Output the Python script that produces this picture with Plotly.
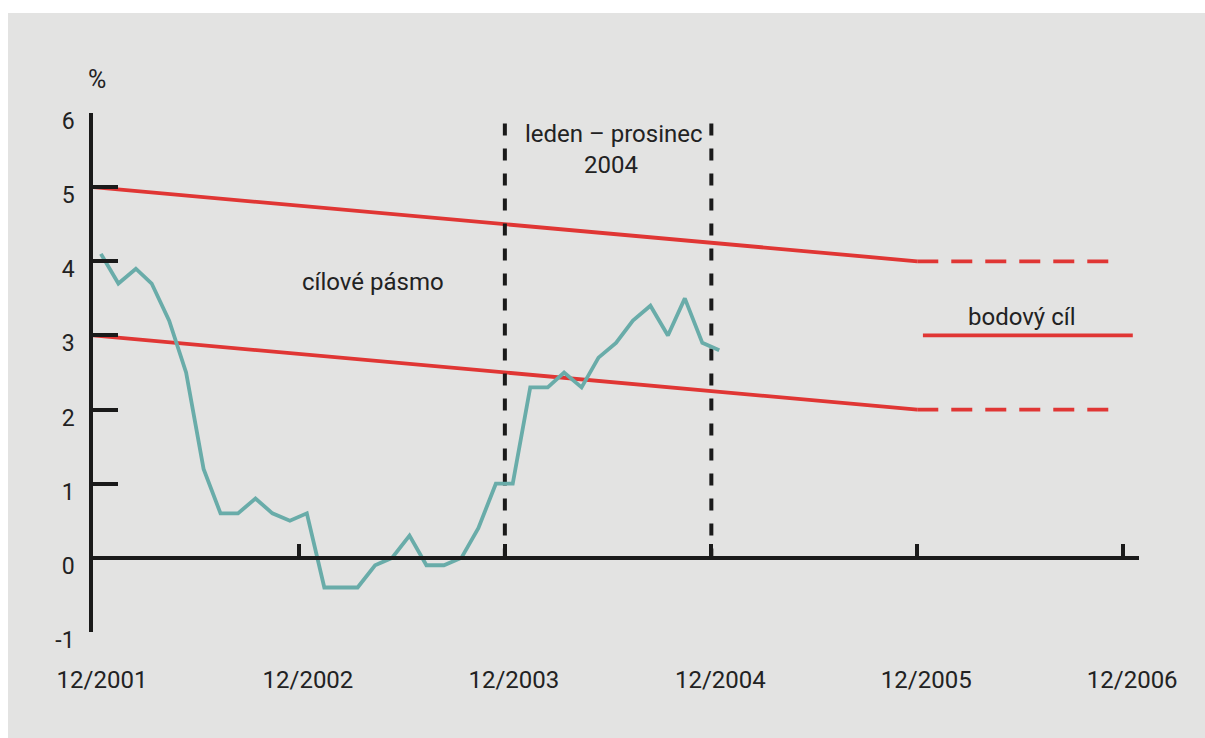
import plotly.graph_objects as go

# ---- data ----
cpi_dates = [
    "2001-12-15", "2002-01-15", "2002-02-15", "2002-03-15", "2002-04-15", "2002-05-15",
    "2002-06-15", "2002-07-15", "2002-08-15", "2002-09-15", "2002-10-15", "2002-11-15",
    "2002-12-15", "2003-01-15", "2003-02-15", "2003-03-15", "2003-04-15", "2003-05-15",
    "2003-06-15", "2003-07-15", "2003-08-15", "2003-09-15", "2003-10-15", "2003-11-15",
    "2003-12-15", "2004-01-15", "2004-02-15", "2004-03-15", "2004-04-15", "2004-05-15",
    "2004-06-15", "2004-07-15", "2004-08-15", "2004-09-15", "2004-10-15", "2004-11-15",
    "2004-12-15",
]
cpi_values = [
    4.1, 3.7, 3.9, 3.7, 3.2, 2.5,
    1.2, 0.6, 0.6, 0.8, 0.6, 0.5,
    0.6, -0.4, -0.4, -0.4, -0.1, 0.0,
    0.3, -0.1, -0.1, 0.0, 0.4, 1.0,
    1.0, 2.3, 2.3, 2.5, 2.3, 2.7,
    2.9, 3.2, 3.4, 3.0, 3.5, 2.9,
    2.8,
]

band_dates = ["2001-12-01", "2005-12-01"]
band_upper = [5.0, 4.0]
band_lower = [3.0, 2.0]

band_ext_dates = ["2005-12-01", "2006-11-18"]
band_ext_upper = [4.0, 4.0]
band_ext_lower = [2.0, 2.0]

point_dates = ["2005-12-11", "2006-12-18"]
point_target = [3.0, 3.0]

period_marks = ["2003-12-01", "2004-12-01"]
period_top = 5.86

tick_dates = ["2001-12-01", "2002-12-01", "2003-12-01", "2004-12-01", "2005-12-01", "2006-12-01"]
tick_labels = ["12/2001", "12/2002", "12/2003", "12/2004", "12/2005", "12/2006"]
y_ticks = [-1, 0, 1, 2, 3, 4, 5, 6]
y_tick_labels = ["-1", "0", "1", "2", "3", "4", "5", "6"]

RED = "#e03634"
TEAL = "#69aca9"
BG = "#e3e3e2"
FONT = "Roboto, Liberation Sans, sans-serif"

fig = go.Figure()

# target band
for ys in (band_upper, band_lower):
    fig.add_trace(go.Scatter(x=band_dates, y=ys, mode="lines",
                             line=dict(color=RED, width=3.8), hoverinfo="skip"))
for ys in (band_ext_upper, band_ext_lower):
    fig.add_trace(go.Scatter(x=band_ext_dates, y=ys, mode="lines",
                             line=dict(color=RED, width=3.8, dash="21px,13px"), hoverinfo="skip"))
fig.add_trace(go.Scatter(x=point_dates, y=point_target, mode="lines",
                         line=dict(color=RED, width=3.8), hoverinfo="skip"))

# period markers
for d in period_marks:
    fig.add_trace(go.Scatter(x=[d, d], y=[period_top, 0], mode="lines",
                             line=dict(color="#1a1a1a", width=4, dash="12px,13px"), hoverinfo="skip"))

# inflation
fig.add_trace(go.Scatter(x=cpi_dates, y=cpi_values, mode="lines",
                         line=dict(color=TEAL, width=3.8), hoverinfo="skip"))

W, H = 1205, 738
# plot area in page pixels: left 93, right 1139, top 113, bottom 632
ml, mt = 93, 113
mr, mb = W - 1139, H - 632
pw, ph = W - ml - mr, H - mt - mb


def px_x(page_x):
    return (page_x - ml) / pw


def px_y(page_y):
    return (H - mb - page_y) / ph


fig.add_shape(type="rect", xref="paper", yref="paper",
              x0=px_x(8), x1=px_x(W + 5), y0=px_y(H + 5), y1=px_y(13),
              fillcolor=BG, line=dict(width=0), layer="below")

txt = dict(family=FONT, size=24, color="#222222")
fig.add_annotation(x=px_x(97), y=px_y(79), xref="paper", yref="paper", text="%",
                   xanchor="center", yanchor="middle",
                   showarrow=False, font=dict(family=FONT, size=25, color="#222222"))
fig.add_annotation(x="2004-06-12", y=5.72, text="leden – prosinec", showarrow=False, font=txt)
fig.add_annotation(x="2004-06-06", y=5.30, text="2004", showarrow=False, font=txt)
fig.add_annotation(x="2003-04-12", y=3.72, text="cílové pásmo", showarrow=False, font=txt)
fig.add_annotation(x="2006-06-03", y=3.25, text="bodový cíl", showarrow=False, font=txt)

fig.update_layout(
    width=W, height=H,
    margin=dict(l=ml, r=mr, t=mt, b=mb),
    paper_bgcolor="white",
    plot_bgcolor="rgba(0,0,0,0)",
    showlegend=False,
    font=dict(family=FONT, color="#222222"),
    xaxis=dict(
        type="date",
        range=["2001-12-01", "2006-12-29"],
        tickvals=tick_dates, ticktext=tick_labels,
        showgrid=False, zeroline=False,
        showline=True, linecolor="#1a1a1a", linewidth=3.5,
        ticks="inside", ticklen=12, tickwidth=3.5, tickcolor="#1a1a1a",
        anchor="free", position=1 / 7,
        ticklabelstandoff=100,
        ticklabelshift=9,
        tickfont=dict(family=FONT, size=24, color="#222222"),
    ),
    yaxis=dict(
        range=[-1, 6],
        tickvals=y_ticks, ticktext=y_tick_labels,
        showgrid=False, zeroline=False,
        showline=True, linecolor="#1a1a1a", linewidth=3.5,
        ticks="inside", ticklen=25, tickwidth=3.5, tickcolor="#1a1a1a",
        ticklabelstandoff=10,
        ticklabelshift=8,
        tickfont=dict(family=FONT, size=23, color="#222222"),
    ),
)

fig.write_html(
    "out.html",
    config={"displayModeBar": False},
    post_script="document.body.style.margin='0';document.body.style.overflow='hidden';",
)
